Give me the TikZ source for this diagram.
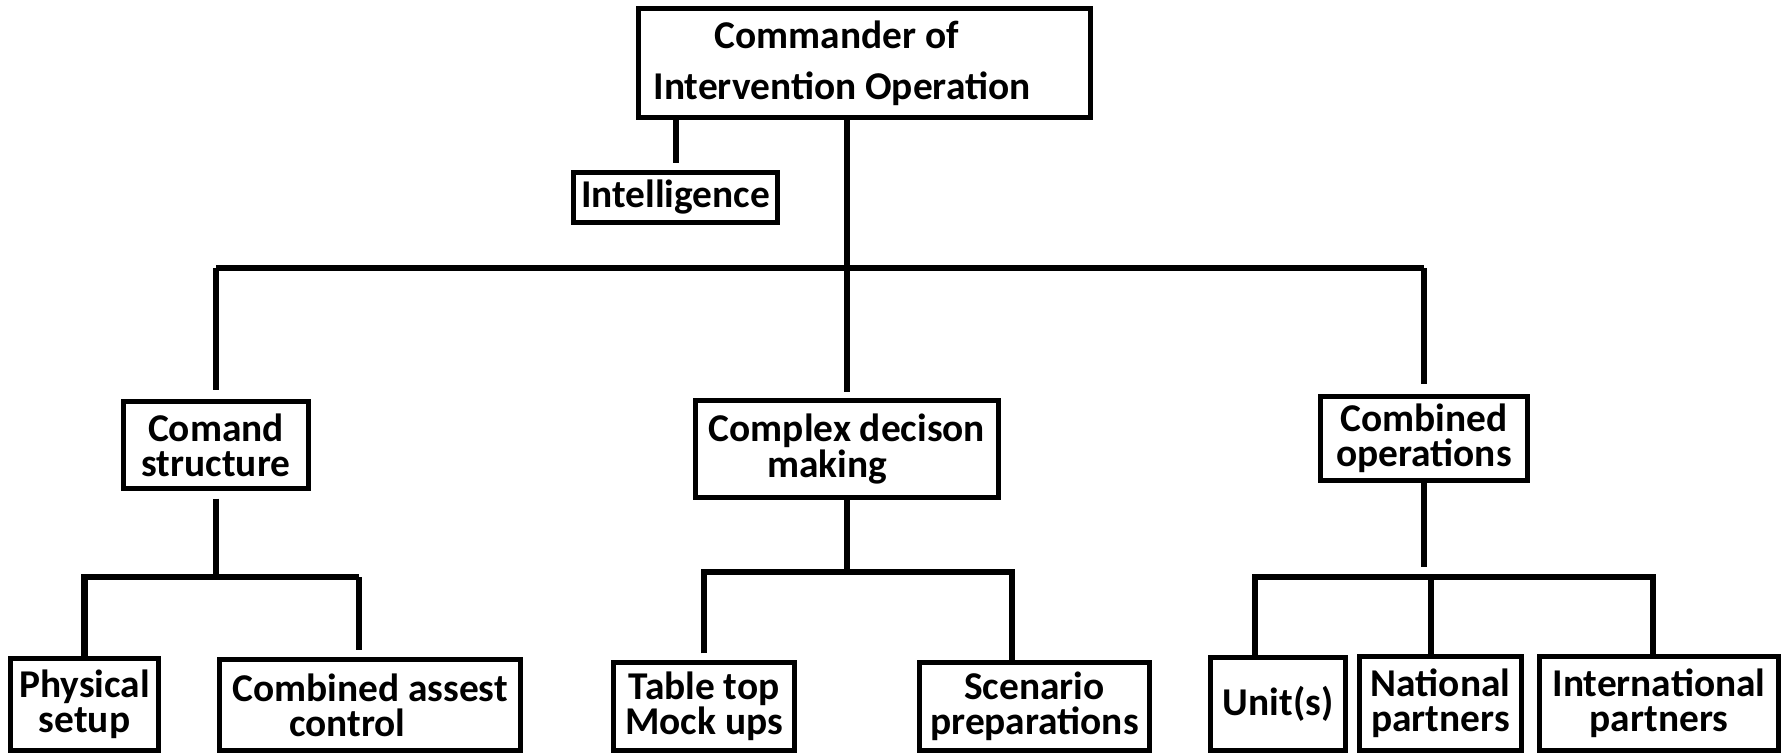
\documentclass[tikz,border=0pt]{standalone}
\usepackage{fontspec}
\setmainfont{Carlito}
\usepackage{tikz}
\usetikzlibrary{positioning}

\begin{document}
\begin{tikzpicture}[x=0.01cm, y=-0.01cm,
   every node/.style={font=\fontsize{11.2}{10}\selectfont\bfseries},
   box/.style={draw, line width=0.05cm, align=center, inner sep=0pt},
   link/.style={line width=0.06cm}]
   \useasboundingbox (0,0) rectangle (1787,754);

   % Top of the chart
   \node[box, minimum width=4.51cm, minimum height=1.08cm, font=\fontsize{11.2}{14.5}\selectfont\bfseries] (cmdr) at (864.5,63) {Commander of\hspace*{0.55cm}\\Intervention Operation\hspace*{0.45cm}};
   \node[box, minimum width=2.03cm, minimum height=0.49cm] (intel) at (675.5,197.5) {Intelligence};

   % Second row
   \node[box, minimum width=1.84cm, minimum height=0.86cm] (struct) at (216,445) {Comand\\structure};
   \node[box, minimum width=3.02cm, minimum height=0.96cm] (decis) at (847,449) {Complex decison\\making\hspace*{0.4cm}};
   \node[box, minimum width=2.06cm, minimum height=0.83cm] (combops) at (1424,438.5) {Combined\\operations};

   % Bottom row
   \node[box, minimum width=1.47cm, minimum height=0.91cm] (phys) at (84.5,704.5) {Physical\\setup};
   \node[box, minimum width=3.00cm, minimum height=0.90cm] (asset) at (370,705) {Combined assest\\control\hspace*{0.45cm}};
   \node[box, minimum width=1.80cm, minimum height=0.87cm] (table) at (704,706.5) {Table top\\Mock ups};
   \node[box, minimum width=2.29cm, minimum height=0.87cm] (scen) at (1034.5,706.5) {Scenario\\preparations};
   \node[box, minimum width=1.34cm, minimum height=0.92cm] (unit) at (1278,704) {Unit(s)};
   \node[box, minimum width=1.61cm, minimum height=0.93cm] (natl) at (1440.5,703.5) {National\\partners};
   \node[box, minimum width=2.38cm, minimum height=0.93cm] (intl) at (1659,703.5) {International\\partners};

   % Bus points
   \coordinate (hub) at (847,268);
   \coordinate (sbL) at (85,577);
   \coordinate (sbR) at (359,577);
   \coordinate (dbR) at (1012,572);
   \coordinate (cbL) at (1255,577);
   \coordinate (cbM) at (1431,577);
   \coordinate (cbR) at (1653,577);

   % Commander links
   \draw[link, shorten >=0.07cm] (cmdr.south -| intel.north) -- (intel.north);
   \draw[link, shorten >=0.06cm] (cmdr.south -| decis.north) -- (decis.north);
   \draw[link] (struct.north |- hub) -- (combops.north |- hub);
   \draw[link, shorten >=0.09cm] (struct.north |- hub) -- (struct.north);
   \draw[link, shorten >=0.1cm] (combops.north |- hub) -- (combops.north);

   % Comand structure links
   \draw[link, shorten <=0.08cm] (struct.south) -- (struct.south |- sbL);
   \draw[link] (phys.north) |- (sbR);
   \draw[link, shorten >=0.07cm] (sbR) -- (sbR |- asset.north);

   % Complex decison links
   \draw[link] (decis.south) -- (decis.south |- dbR);
   \draw[link, shorten <=0.07cm] (table.north) |- (dbR) -- (dbR |- scen.north);

   % Combined operations links
   \draw[link, shorten >=0.1cm] (combops.south) -- (combops.south |- cbM);
   \draw[link] (cbL |- unit.north) -- (cbL) -- (cbR) -- (cbR |- intl.north);
   \draw[link] (cbM) -- (cbM |- natl.north);
\end{tikzpicture}
\end{document}
